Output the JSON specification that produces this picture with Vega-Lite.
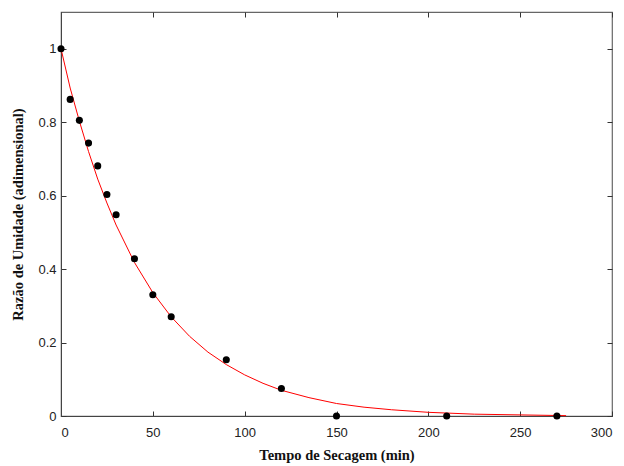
{
  "$schema": "https://vega.github.io/schema/vega-lite/v6.json",
  "autosize": "none",
  "width": 551,
  "height": 404,
  "padding": {"left": 61, "top": 12, "right": 12, "bottom": 50},
  "background": "white",
  "config": {
    "view": {"stroke": "#666", "strokeWidth": 1.2},
    "axis": {"grid": false, "domainColor": "#444", "tickColor": "#333", "labelFont": "Liberation Sans", "labelFontSize": 13, "labelColor": "#222", "titleFont": "Liberation Serif", "titleFontSize": 14.5, "titleFontWeight": "bold", "titleColor": "#111"}
  },
  "datasets": {
    "obs": [
      {"t": 0, "mr": 1.0},
      {"t": 5, "mr": 0.862},
      {"t": 10, "mr": 0.805},
      {"t": 15, "mr": 0.743},
      {"t": 20, "mr": 0.681},
      {"t": 25, "mr": 0.603},
      {"t": 30, "mr": 0.548},
      {"t": 40, "mr": 0.428},
      {"t": 50, "mr": 0.33},
      {"t": 60, "mr": 0.27},
      {"t": 90, "mr": 0.153},
      {"t": 120, "mr": 0.075},
      {"t": 150, "mr": 0.0},
      {"t": 210, "mr": 0.0},
      {"t": 270, "mr": 0.0}
    ],
    "fit": [
      {"t": 0, "mr": 1.0},
      {"t": 5, "mr": 0.893},
      {"t": 10, "mr": 0.803},
      {"t": 15, "mr": 0.72},
      {"t": 20, "mr": 0.645},
      {"t": 25, "mr": 0.58},
      {"t": 30, "mr": 0.52},
      {"t": 40, "mr": 0.418},
      {"t": 50, "mr": 0.336},
      {"t": 60, "mr": 0.27},
      {"t": 70, "mr": 0.217},
      {"t": 80, "mr": 0.174},
      {"t": 90, "mr": 0.14},
      {"t": 100, "mr": 0.112},
      {"t": 110, "mr": 0.089},
      {"t": 120, "mr": 0.07},
      {"t": 135, "mr": 0.05},
      {"t": 150, "mr": 0.034},
      {"t": 165, "mr": 0.024},
      {"t": 180, "mr": 0.017},
      {"t": 200, "mr": 0.01},
      {"t": 225, "mr": 0.005},
      {"t": 250, "mr": 0.003},
      {"t": 275, "mr": 0.001}
    ]
  },
  "layer": [
    {
      "data": {"name": "fit"},
      "mark": {"type": "line", "color": "#ff0000", "strokeWidth": 1},
      "encoding": {
        "x": {"field": "t", "type": "quantitative", "scale": {"domain": [0, 300], "nice": false}, "axis": {"title": "Tempo de Secagem (min)", "values": [0, 50, 100, 150, 200, 250, 300], "tickSize": -5, "labelPadding": 15, "titlePadding": 9}},
        "y": {"field": "mr", "type": "quantitative", "scale": {"domain": [0, 1.1], "nice": false}, "axis": {"title": "Razão de Umidade (adimensional)", "values": [0, 0.2, 0.4, 0.6, 0.8, 1], "format": "~g", "tickSize": -5, "labelPadding": 10, "titlePadding": 12}}
      }
    },
    {
      "data": {"name": "obs"},
      "mark": {"type": "circle", "color": "black", "size": 50, "opacity": 1},
      "encoding": {
        "x": {"field": "t", "type": "quantitative", "axis": {"orient": "top", "title": null, "labels": false, "values": [0, 50, 100, 150, 200, 250, 300], "tickSize": -5, "domain": false}},
        "y": {"field": "mr", "type": "quantitative", "axis": {"orient": "right", "title": null, "labels": false, "values": [0, 0.2, 0.4, 0.6, 0.8, 1], "tickSize": -5, "domain": false}}
      }
    }
  ],
  "resolve": {"axis": {"x": "independent", "y": "independent"}}
}
